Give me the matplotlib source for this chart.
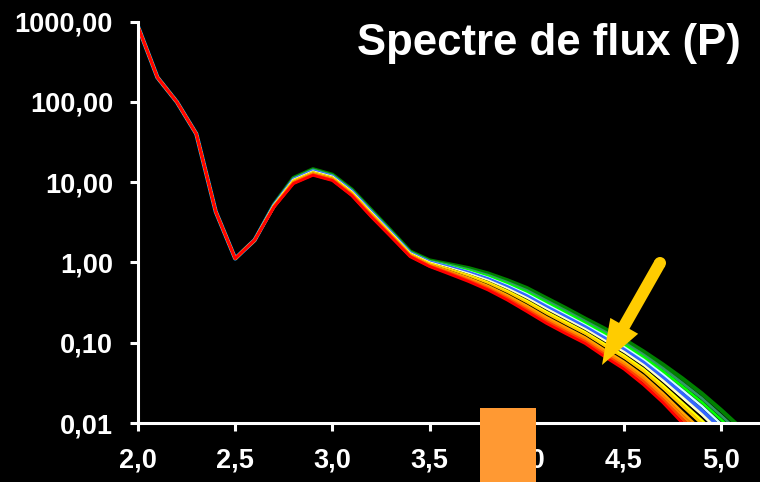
import matplotlib
matplotlib.use("Agg")
import matplotlib.pyplot as plt
from matplotlib.patches import FancyArrow, Circle, Rectangle
from matplotlib.ticker import FixedLocator, NullLocator

plt.rcParams["font.family"] = ["Liberation Sans", "DejaVu Sans"]

X = [2.0, 2.1, 2.2, 2.3, 2.4, 2.5, 2.6, 2.7, 2.8, 2.9, 3.0, 3.1, 3.2, 3.3, 3.4, 3.5,
     3.6, 3.7, 3.8, 3.9, 4.0, 4.1, 4.2, 4.3, 4.4, 4.5, 4.6, 4.7, 4.8, 4.9, 5.0, 5.1]

# x = 2.0 .. 2.6 : all series coincide
HEAD = [870, 202, 100, 40, 4.3, 1.12, 1.9]

# x = 2.7 .. 5.1, one list per series (bottom to top in the tail)
red = [4.9, 9.6, 12.2, 10.5, 6.8, 3.7, 2.1, 1.18, 0.89, 0.72, 0.58, 0.455, 0.34, 0.245, 0.175,
       0.13, 0.098, 0.067, 0.047, 0.030, 0.018, 0.010, 0.0058, 0.0032, 0.0018]
red_orange = [4.93, 9.74, 12.4, 10.65, 6.9, 3.76, 2.13, 1.2, 0.90, 0.74, 0.597, 0.472, 0.356, 0.258, 0.185,
              0.138, 0.104, 0.0714, 0.0503, 0.0330, 0.0196, 0.0111, 0.0064, 0.0036, 0.0020]
orange = [4.96, 9.87, 12.6, 10.8, 7.0, 3.83, 2.16, 1.21, 0.92, 0.76, 0.617, 0.491, 0.372, 0.273, 0.196,
          0.146, 0.110, 0.0762, 0.0538, 0.0355, 0.0214, 0.0123, 0.0072, 0.0040, 0.0023]
light_orange = [5.0, 10.0, 12.75, 10.95, 7.1, 3.89, 2.2, 1.23, 0.93, 0.775, 0.636, 0.509, 0.389, 0.288, 0.208,
                0.155, 0.116, 0.0813, 0.0577, 0.0385, 0.0234, 0.0136, 0.0081, 0.0046, 0.0026]
black_1 = [5.02, 10.1, 12.9, 11.1, 7.2, 3.95, 2.22, 1.24, 0.94, 0.79, 0.652, 0.527, 0.406, 0.302, 0.219,
           0.163, 0.122, 0.0859, 0.0612, 0.0412, 0.0252, 0.0149, 0.0089, 0.0051, 0.0029]
gold = [5.05, 10.25, 13.1, 11.2, 7.3, 4.0, 2.25, 1.25, 0.95, 0.81, 0.670, 0.545, 0.422, 0.316, 0.230,
        0.171, 0.129, 0.0910, 0.0650, 0.0440, 0.0272, 0.0163, 0.0098, 0.0056, 0.0033]
yellow = [5.08, 10.4, 13.2, 11.35, 7.4, 4.06, 2.28, 1.27, 0.97, 0.82, 0.689, 0.562, 0.439, 0.331, 0.242,
          0.181, 0.135, 0.0962, 0.0690, 0.0470, 0.0294, 0.0178, 0.0108, 0.0063, 0.0036]
black_2 = [5.1, 10.5, 13.4, 11.5, 7.46, 4.11, 2.3, 1.28, 0.98, 0.84, 0.705, 0.579, 0.454, 0.345, 0.253,
           0.189, 0.141, 0.101, 0.0726, 0.0497, 0.0314, 0.0192, 0.0118, 0.0069, 0.0040]
pale_yellow = [5.13, 10.6, 13.5, 11.6, 7.54, 4.16, 2.33, 1.29, 0.99, 0.85, 0.721, 0.596, 0.470, 0.359, 0.264,
               0.197, 0.147, 0.106, 0.0764, 0.0525, 0.0336, 0.0208, 0.0128, 0.0075, 0.0044]
blue = [5.16, 10.7, 13.7, 11.7, 7.65, 4.22, 2.36, 1.3, 1.0, 0.87, 0.743, 0.618, 0.492, 0.379, 0.279,
        0.209, 0.156, 0.113, 0.0817, 0.0565, 0.0366, 0.0230, 0.0143, 0.0085, 0.0050]
pale_cyan = [5.2, 10.9, 13.9, 11.9, 7.76, 4.29, 2.4, 1.32, 1.02, 0.89, 0.769, 0.645, 0.518, 0.403, 0.299,
             0.223, 0.166, 0.122, 0.0883, 0.0615, 0.0404, 0.0258, 0.0163, 0.0097, 0.0058]
bright_green = [5.23, 11.0, 14.1, 12.05, 7.87, 4.36, 2.43, 1.34, 1.03, 0.91, 0.793, 0.670, 0.542, 0.425, 0.316,
                0.237, 0.176, 0.130, 0.0944, 0.0662, 0.0441, 0.0286, 0.0182, 0.0110, 0.0065]
sea_green = [5.26, 11.1, 14.3, 12.2, 7.97, 4.42, 2.46, 1.35, 1.04, 0.93, 0.817, 0.695, 0.566, 0.449, 0.335,
             0.251, 0.186, 0.138, 0.101, 0.0710, 0.0481, 0.0316, 0.0204, 0.0124, 0.0074]
dark_green = [5.3, 11.3, 14.5, 12.4, 8.1, 4.5, 2.5, 1.37, 1.06, 0.95, 0.85, 0.73, 0.60, 0.48, 0.36,
              0.27, 0.20, 0.15, 0.11, 0.078, 0.0537, 0.036, 0.0234, 0.0145, 0.0087]

YTICKS = [0.01, 0.1, 1, 10, 100, 1000]
YLABELS = ["0,01", "0,10", "1,00", "10,00", "100,00", "1000,00"]
XTICKS = [2.0, 2.5, 3.0, 3.5, 4.0, 4.5, 5.0]
XLABELS = ["2,0", "2,5", "3,0", "3,5", "4,0", "4,5", "5,0"]

curves = [(red, "#FF0000", 2.0), (red_orange, "#FF4000", 2.0), (orange, "#FF8000", 2.0),
          (light_orange, "#FFA500", 2.0), (black_1, "#000000", 1.0), (gold, "#FFCC00", 2.0),
          (yellow, "#FFFF00", 2.0), (black_2, "#000000", 1.0), (pale_yellow, "#FFFFCC", 2.0),
          (blue, "#3366FF", 3.0), (pale_cyan, "#CCFFFF", 1.8), (bright_green, "#00FF00", 2.0),
          (sea_green, "#339966", 2.0), (dark_green, "#008000", 3.0)]

fig = plt.figure(figsize=(7.6, 4.82), dpi=100, facecolor="black")
ax = fig.add_axes([138 / 760, 59 / 482, 622 / 760, 401.3 / 482])
ax.set_facecolor("black")

# top series first so the red one ends up on top where they overlap
for tail, color, lw in reversed(curves):
    ax.plot(X, HEAD + tail, color=color, lw=lw)

ax.set_yscale("log")
ax.set_ylim(0.01, 1000)
ax.set_xlim(2.0, 5.2)
ax.yaxis.set_major_locator(FixedLocator(YTICKS))
ax.yaxis.set_minor_locator(NullLocator())
ax.set_yticklabels(YLABELS)
ax.set_xticks(XTICKS)
ax.set_xticklabels(XLABELS)

for s in ["top", "right"]:
    ax.spines[s].set_visible(False)
for s in ["left", "bottom"]:
    ax.spines[s].set_color("white")
    ax.spines[s].set_linewidth(2.2)
ax.tick_params(colors="white", width=2.2, length=6, direction="out", labelsize=19.5, pad=12)
for lbl in ax.get_xticklabels() + ax.get_yticklabels():
    lbl.set_fontweight("bold")

fig.text(741 / 760, 1 - 43 / 482, "Spectre de flux (P)", ha="right", va="center",
         fontsize=31.5, fontweight="bold", color="white")

# orange block over the 4,0 label
fig.add_artist(Rectangle((480 / 760, 0), 56 / 760, 74 / 482, transform=fig.transFigure,
                         facecolor="#FF9933", edgecolor="none", zorder=10))

# yellow arrow (inches)
fig.add_artist(FancyArrow(6.60, 2.19, -0.58, -1.02, width=0.12, head_width=0.32, head_length=0.45,
                          length_includes_head=True, facecolor="#FFCC00", edgecolor="none",
                          transform=fig.dpi_scale_trans, zorder=11))
fig.add_artist(Circle((6.60, 2.19), 0.06, facecolor="#FFCC00", edgecolor="none",
                      transform=fig.dpi_scale_trans, zorder=11))

fig.savefig("out.png", dpi=100, facecolor="black")
